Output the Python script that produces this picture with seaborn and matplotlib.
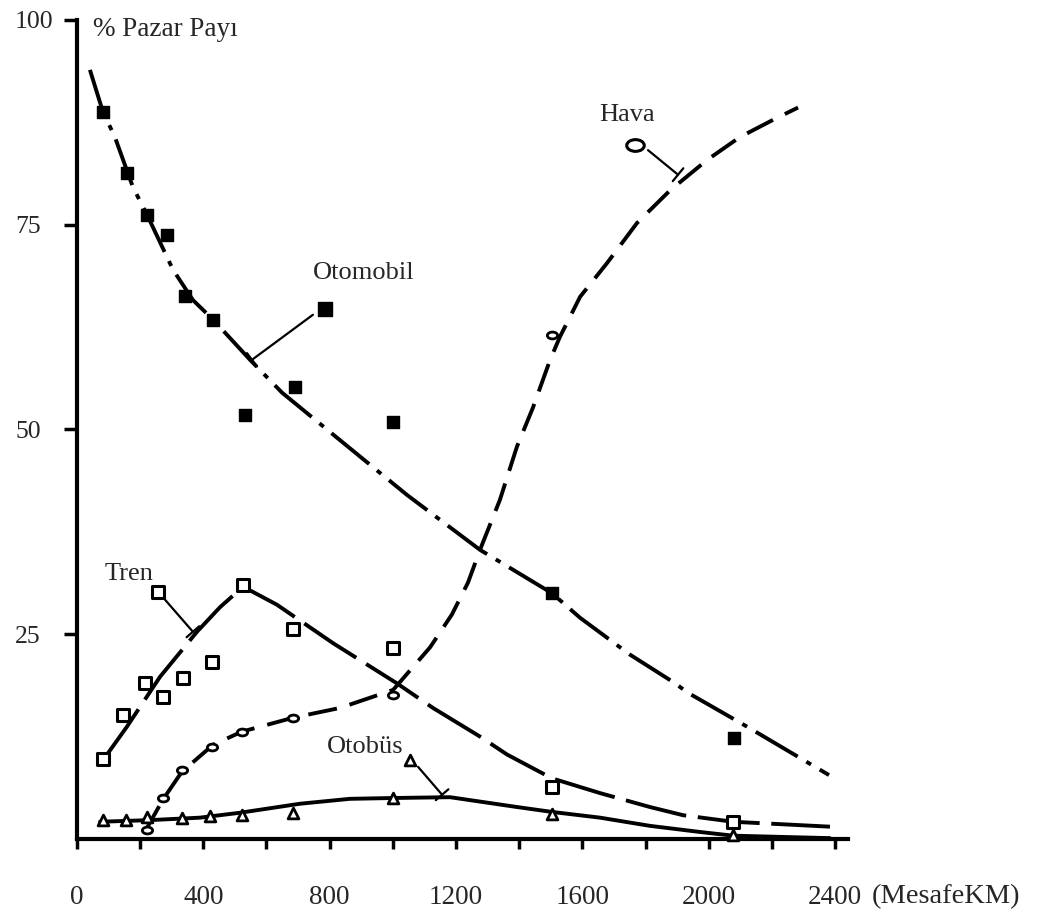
import matplotlib
matplotlib.use("Agg")
import matplotlib.pyplot as plt
import seaborn as sns
from matplotlib.path import Path
from matplotlib.transforms import Affine2D

# ---- values: distance (km) vs market share (%) ----
# Otomobil (car): filled squares + dash-dot fitted curve
oto_km = [82, 158, 222, 285, 342, 431, 532, 690, 1001, 1504, 2080]
oto_pct = [88.8, 81.3, 76.2, 73.7, 66.3, 63.4, 51.8, 55.2, 50.9, 30.0, 12.3]
oto_fit_km = [41, 82, 120, 177, 222, 304, 367, 431, 548, 649, 842, 1045, 1276, 1504, 1593, 1751, 1894, 1932, 2122, 2381]
oto_fit_pct = [93.9, 88.8, 85.7, 79.6, 76.2, 69.5, 65.8, 63.4, 58.5, 54.5, 48.4, 42.0, 35.3, 30.0, 27.0, 22.5, 19.0, 17.9, 13.7, 7.8]

# Tren (rail): open squares + long-dash curve
tren_km = [82, 146, 215, 272, 336, 427, 526, 684, 1001, 1504, 2077]
tren_pct = [9.8, 15.1, 19.0, 17.3, 19.7, 21.6, 31.0, 25.6, 23.3, 6.3, 2.1]
tren_fit_km = [82, 158, 263, 380, 453, 526, 633, 811, 1013, 1127, 1276, 1362, 1504, 1656, 1814, 1919, 2077, 2384]
tren_fit_pct = [9.6, 13.7, 19.8, 25.3, 28.3, 30.8, 28.6, 23.9, 19.0, 16.0, 12.5, 10.3, 7.4, 5.6, 3.9, 2.9, 2.1, 1.5]

# Hava (air): small open circles + dashed S-curve
hava_km = [222, 272, 332, 427, 522, 684, 1001, 1504]
hava_pct = [1.1, 5.0, 8.4, 11.2, 13.1, 14.8, 17.6, 61.5]
hava_fit_km = [215, 272, 332, 431, 522, 684, 833, 1001, 1118, 1187, 1238, 1276, 1339, 1393, 1444, 1498,
               1529, 1593, 1678, 1773, 1878, 1995, 2099, 2204, 2283]
hava_fit_pct = [0.9, 4.8, 8.2, 11.5, 13.1, 14.8, 16.0, 18.2, 23.4, 27.4, 31.3, 35.3, 41.4, 47.9, 52.7, 58.5,
                61.3, 66.2, 70.3, 75.2, 79.2, 82.9, 85.7, 87.8, 89.3]

# Otobus (bus): open triangles + solid curve
bus_km = [82, 155, 222, 332, 421, 522, 684, 1001, 1504, 2077]
bus_pct = [2.3, 2.3, 2.7, 2.6, 2.8, 2.9, 3.2, 5.0, 3.1, 0.5]
bus_fit_km = [73, 231, 389, 516, 706, 864, 1001, 1181, 1393, 1504, 1656, 1814, 1973, 2077, 2384]
bus_fit_pct = [2.1, 2.3, 2.6, 3.2, 4.3, 4.9, 5.0, 5.1, 3.9, 3.3, 2.6, 1.6, 0.85, 0.4, 0.1]

x_ticks = [0, 400, 800, 1200, 1600, 2000, 2400]
y_ticks = [25, 50, 75, 100]

# style
sns.set_theme(style="white")
plt.rcParams["font.family"] = ["Liberation Serif", "DejaVu Serif"]
plt.rcParams["axes.edgecolor"] = "black"

fig = plt.figure(figsize=(10.43, 9.18), dpi=100)
ax = fig.add_axes([0.0738, 0.0861, 0.7392, 0.8922])

LW = 2.8
sns.lineplot(x=oto_fit_km, y=oto_fit_pct, ax=ax, color="black", lw=LW, sort=False, estimator=None,
             linestyle=(0, (12.5, 2.6, 1.4, 2.6)))
sns.lineplot(x=tren_fit_km, y=tren_fit_pct, ax=ax, color="black", lw=LW, sort=False, estimator=None,
             linestyle=(0, (16, 3.0)))
sns.lineplot(x=hava_fit_km, y=hava_fit_pct, ax=ax, color="black", lw=LW, sort=False, estimator=None,
             linestyle=(0, (7.5, 3.4)))
sns.lineplot(x=bus_fit_km, y=bus_fit_pct, ax=ax, color="black", lw=LW, sort=False, estimator=None)

# observed points
sns.scatterplot(x=oto_km, y=oto_pct, ax=ax, marker="s", s=85, color="black", edgecolor="black",
                linewidth=1, zorder=3)
sns.scatterplot(x=tren_km, y=tren_pct, ax=ax, marker="s", s=70, color="white", edgecolor="black",
                linewidth=2.2, zorder=3)
ellipse = Path.unit_circle().transformed(Affine2D().scale(1.5, 1.0))
sns.scatterplot(x=hava_km, y=hava_pct, ax=ax, marker=ellipse, s=55, color="white", edgecolor="black",
                linewidth=2.0, zorder=3)
sns.scatterplot(x=bus_km, y=bus_pct, ax=ax, marker="^", s=60, color="white", edgecolor="black",
                linewidth=2.0, zorder=3, clip_on=False)

# series labels with their key marker and pointer line
bracket = dict(arrowstyle="-[,widthB=0.5,lengthB=0", lw=1.6, color="black", shrinkA=0, shrinkB=0)
ax.text(909, 69.1, "Otomobil", fontsize=19, ha="center", va="center")
ax.scatter([785], [64.7], marker="s", s=110, color="black", zorder=3)
ax.annotate("", xy=(554, 58.5), xytext=(747, 64.0), arrowprops=bracket)

ax.text(1742, 88.4, "Hava", fontsize=19, ha="center", va="center")
ax.scatter([1767], [84.7], marker=ellipse, s=160, facecolor="white", edgecolor="black", linewidths=2.2, zorder=3)
ax.annotate("", xy=(1903, 81.1), xytext=(1808, 84.1), arrowprops=bracket)

ax.text(165, 32.4, "Tren", fontsize=19, ha="center", va="center")
ax.scatter([256], [30.2], marker="s", s=80, facecolor="white", edgecolor="black", linewidths=2.2, zorder=3)
ax.annotate("", xy=(367, 25.3), xytext=(279, 29.2), arrowprops=bracket)

ax.text(912, 11.2, "Otobüs", fontsize=19, ha="center", va="center")
ax.scatter([1054], [9.6], marker="^", s=60, facecolor="white", edgecolor="black", linewidths=2.0, zorder=3)
ax.annotate("", xy=(1156, 5.4), xytext=(1080, 8.8), arrowprops=bracket)

ax.text(51, 98.8, "% Pazar Payı", fontsize=19.5, ha="left", va="center", clip_on=False)

# axes
ax.set_xlim(0, 2441)
ax.set_ylim(0, 100)
ax.set_xticks(x_ticks)
ax.set_xticks([200, 600, 1000, 1400, 1800, 2200], minor=True)
ax.set_yticks(y_ticks)
ax.set_xticklabels([str(v) for v in x_ticks], fontsize=19.5)
ax.set_yticklabels([str(v) for v in y_ticks], fontsize=18.5, ha="left")
ax.tick_params(axis="x", which="both", direction="out", length=7, width=2.5, pad=26, color="black",
               bottom=True)
ax.tick_params(axis="y", direction="out", length=9.5, width=2.5, pad=35, color="black", left=True)
ax.set_xlabel("")
ax.set_ylabel("")
for side in ["top", "right"]:
    ax.spines[side].set_visible(False)
for side in ["left", "bottom"]:
    ax.spines[side].set_linewidth(3)
    ax.spines[side].set_color("black")
ax.grid(False)

fig.text(872 / 1043, 1 - 897 / 918, "(MesafeKM)", fontsize=20.5, ha="left", va="center")

fig.savefig("out.png", dpi=100)
plt.close(fig)
